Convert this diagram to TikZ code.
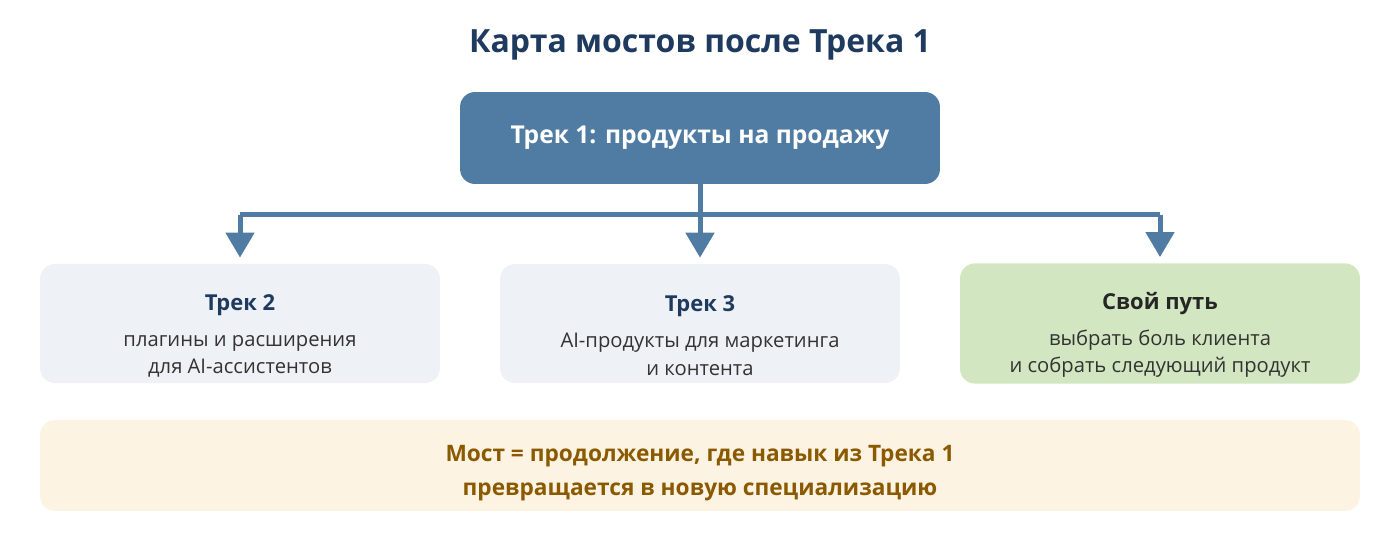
\documentclass[tikz,border=0pt]{standalone}
\usepackage{fontspec}
\setmainfont{Open Sans}
\usetikzlibrary{arrows.meta,positioning}
\definecolor{titleblue}{HTML}{1F3A5F}
\definecolor{trackblue}{HTML}{507CA3}
\definecolor{boxgrey}{HTML}{EEF2F6}
\definecolor{boxgreen}{HTML}{D2E7C1}
\definecolor{boxcream}{HTML}{FDF3E3}
\definecolor{bridgebrown}{HTML}{8B5A00}
\definecolor{textgrey}{HTML}{333333}
\newcommand{\branchhead}[2]{{\rule{0pt}{23pt}\bfseries\fontsize{12.5}{15}\selectfont\color{#1}#2}}
\tikzset{
  px/.style={x=0.02cm,y=-0.02cm},
  track/.style={rounded corners=0.3cm,minimum width=9.6cm,minimum height=1.84cm,fill=trackblue,text=white,font=\bfseries\fontsize{14}{17}\selectfont},
  branch/.style={rounded corners=0.3cm,minimum width=8cm,minimum height=2.38cm,align=center,text=textgrey,font=\fontsize{11.5}{15.5}\selectfont},
  link/.style={draw=trackblue,line width=0.1cm},
  pointer/.style={link,-{Triangle[width=0.56cm,length=0.5cm]},shorten >=0.12cm}
}
\begin{document}
\begin{tikzpicture}[px]
\useasboundingbox (0,0) rectangle (1400,560);

\node [text=titleblue,font=\bfseries\fontsize{18.2}{20}\selectfont] (title) at (700,45) {Карта мостов после Трека 1};

\node [track] (t1) at (700,138) {Трек 1: продукты на продажу};

\node [branch,fill=boxgrey] (t2) at (240,323.5) {\branchhead{titleblue}{Трек 2}\\[5pt]плагины и расширения\\для AI-ассистентов};
\node [branch,fill=boxgrey] (t3) at (700,323.5) {\branchhead{titleblue}{Трек 3}\\[5pt]AI-продукты для маркетинга\\и контента};
\node [branch,fill=boxgreen] (own) at (1160,323.5) {\branchhead{black!85}{Свой путь}\\[5pt]выбрать боль клиента\\и собрать следующий продукт};

\node [rounded corners=0.3cm,minimum width=26.4cm,minimum height=1.82cm,fill=boxcream,align=center,text=bridgebrown,font=\bfseries\fontsize{12.9}{19}\selectfont] (bridge) at (700,465.5) {\rule{0pt}{18pt}Мост = продолжение, где навык из Трека 1\\превращается в новую специализацию};

% connectors
\coordinate (fork) at (700,215);
\coordinate (left) at (240,215);
\coordinate (right) at (1160,215);
\draw [link] (t1.south) -- (fork);
\draw [link] (left) -- (right);
\draw [pointer] (left) -- (t2.north);
\draw [pointer] (fork) -- (t3.north);
\draw [pointer] (right) -- (own.north);

\end{tikzpicture}
\end{document}
